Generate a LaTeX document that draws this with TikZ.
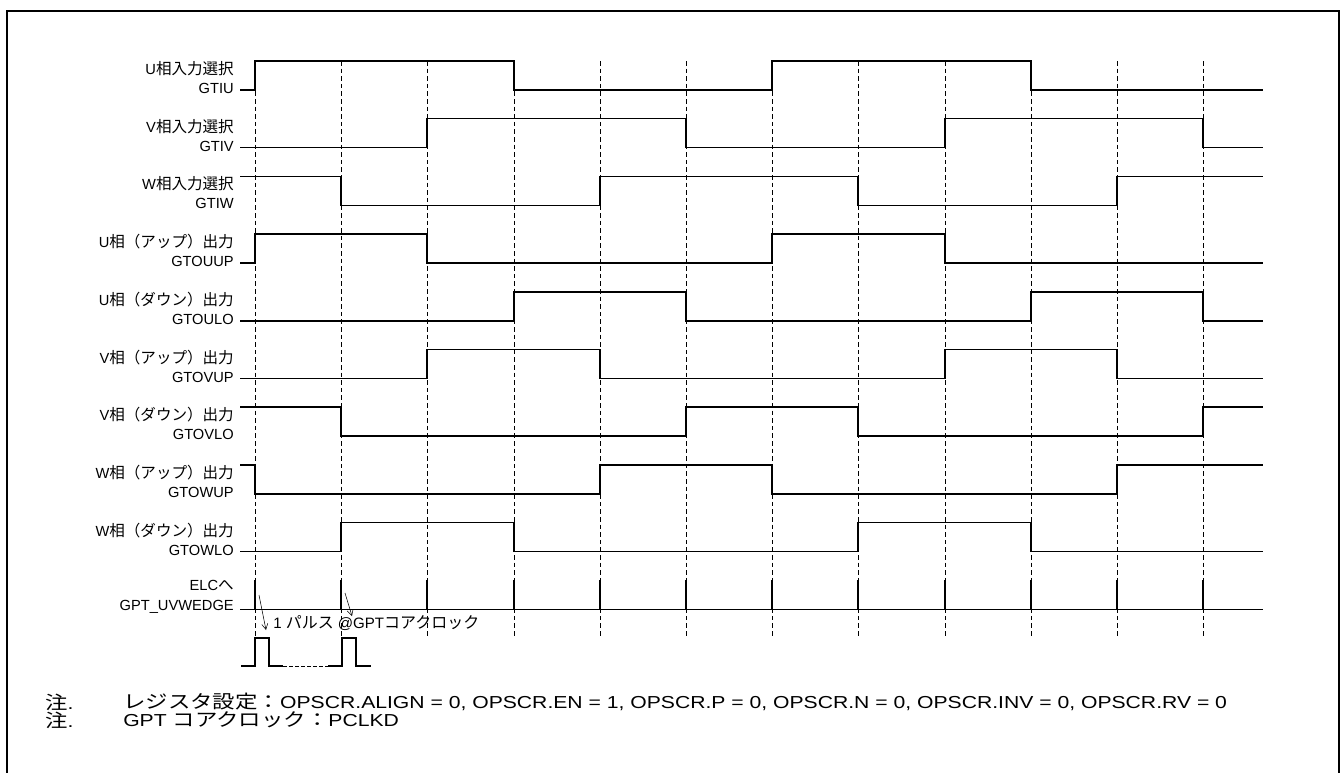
\documentclass[tikz,border=0pt]{standalone}
\usepackage{fontspec}
\setmainfont{Liberation Sans}
\newfontfamily\jpfont[Scale=1.06]{Noto Sans CJK JP}
\usetikzlibrary{arrows.meta}
\newcommand\jp[1]{{\jpfont #1}}
\newcommand\notewide[1]{\scalebox{1.22}[1]{#1}}
\tikzset{
  wave/.style={line width=1.1pt, line join=miter},
  guide/.style={line width=0.6pt, dash pattern=on 3.5pt off 2.2pt},
  siglabel/.style={anchor=east, align=right, inner sep=0pt,
                   font=\fontsize{11}{14.3}\selectfont},
  notetext/.style={anchor=west, inner sep=0pt, font=\fontsize{13}{15}\selectfont},
  pointer/.style={-{Straight Barb[length=1.5mm, width=1.6mm]}, line width=0.4pt},
}

\begin{document}
\begin{tikzpicture}[x=0.75pt, y=-0.75pt]
  \useasboundingbox (0,0) rectangle (1343,772);
  % frame
  \draw[line width=0.8pt] (7,780) -- (7,11) -- (1339,11) -- (1339,780);
  % guide lines at each edge
  \foreach \x in {255,341,427,514,600,686,772,858,945,1031,1117,1203}
    \draw[guide] (\x,61) -- (\x,637);

  % U phase input
  \begin{scope}[shift={(0,61)}]
    \draw[wave] (240,29) -| (255,0) -| (514,29) -| (772,0) -| (1031,29) -- (1263,29);
    \node[siglabel] (lblU) at (234,16.5) {U\jp{相入力選択}\\GTIU};
  \end{scope}
  % V phase input
  \begin{scope}[shift={(0,118.7)}]
    \draw[wave] (240,29) -| (427,0) -| (686,29) -| (945,0) -| (1203,29) -- (1263,29);
    \node[siglabel] (lblV) at (234,16.5) {V\jp{相入力選択}\\GTIV};
  \end{scope}
  % W phase input
  \begin{scope}[shift={(0,176.4)}]
    \draw[wave] (240,0) -| (341,29) -| (600,0) -| (858,29) -| (1117,0) -- (1263,0);
    \node[siglabel] (lblW) at (234,16.5) {W\jp{相入力選択}\\GTIW};
  \end{scope}
  % U up
  \begin{scope}[shift={(0,234.1)}]
    \draw[wave] (240,29) -| (255,0) -| (427,29) -| (772,0) -| (945,29) -- (1263,29);
    \node[siglabel] (lblUUP) at (234,16.5) {U\jp{相（アップ）出力}\\GTOUUP};
  \end{scope}
  % U down
  \begin{scope}[shift={(0,291.8)}]
    \draw[wave] (240,29) -| (514,0) -| (686,29) -| (1031,0) -| (1203,29) -- (1263,29);
    \node[siglabel] (lblULO) at (234,16.5) {U\jp{相（ダウン）出力}\\GTOULO};
  \end{scope}
  % V up
  \begin{scope}[shift={(0,349.5)}]
    \draw[wave] (240,29) -| (427,0) -| (600,29) -| (945,0) -| (1117,29) -- (1263,29);
    \node[siglabel] (lblVUP) at (234,16.5) {V\jp{相（アップ）出力}\\GTOVUP};
  \end{scope}
  % V down
  \begin{scope}[shift={(0,407.2)}]
    \draw[wave] (240,0) -| (341,29) -| (686,0) -| (858,29) -| (1203,0) -- (1263,0);
    \node[siglabel] (lblVLO) at (234,16.5) {V\jp{相（ダウン）出力}\\GTOVLO};
  \end{scope}
  % W up
  \begin{scope}[shift={(0,464.9)}]
    \draw[wave] (240,0) -| (255,29) -| (600,0) -| (772,29) -| (1117,0) -- (1263,0);
    \node[siglabel] (lblWUP) at (234,16.5) {W\jp{相（アップ）出力}\\GTOWUP};
  \end{scope}
  % W down
  \begin{scope}[shift={(0,522.6)}]
    \draw[wave] (240,29) -| (341,0) -| (514,29) -| (858,0) -| (1031,29) -- (1263,29);
    \node[siglabel] (lblWLO) at (234,16.5) {W\jp{相（ダウン）出力}\\GTOWLO};
  \end{scope}
  % edge pulses to ELC
  \begin{scope}[shift={(0,580.3)}]
    \draw[wave] (240,29) -- (1263,29);
    \foreach \x in {255,341,427,514,600,686,772,858,945,1031,1117,1203}
      \draw[wave] (\x,29) -- (\x,0);
    \node[siglabel] (lblELC) at (234,16.5) {ELC\jp{へ}\\GPT\_UVWEDGE};
  \end{scope}

  % one clock pulse detail
  \draw[wave] (241,666) -| (255,638) -| (269,666) -- (283,666);
  \draw[line width=0.6pt, dash pattern=on 3pt off 1.5pt] (283,666) -- (328,666);
  \draw[wave] (328,666) -| (342,638) -| (356,666) -- (371,666);
  \coordinate (arrA0) at (259,595);
  \coordinate (arrA1) at (266,630);
  \coordinate (arrB0) at (345,593);
  \coordinate (arrB1) at (352,616);
  \draw[pointer] (arrA0) -- (arrA1);
  \draw[pointer] (arrB0) -- (arrB1);
  \node[anchor=west, inner sep=0pt, font=\fontsize{11.3}{13}\selectfont] (pulsetxt)
    at (273,623) {1 \jp{パルス} @GPT\jp{コアクロック}};

  % notes
  \node[notetext] (noteA) at (45,702) {\notewide{\jp{注}.}};
  \node[notetext] (noteAtxt) at (123,702)
    {\notewide{\jp{レジスタ設定：}OPSCR.ALIGN = 0, OPSCR.EN = 1, OPSCR.P = 0, OPSCR.N = 0, OPSCR.INV = 0, OPSCR.RV = 0}};
  \node[notetext] (noteB) at (45,720) {\notewide{\jp{注}.}};
  \node[notetext] (noteBtxt) at (123,720) {\notewide{GPT \jp{コアクロック：}PCLKD}};
\end{tikzpicture}
\end{document}
